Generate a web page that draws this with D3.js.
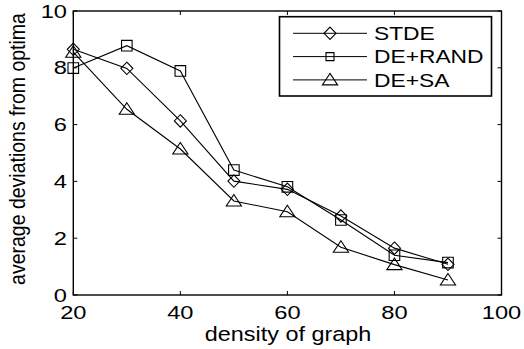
<!DOCTYPE html>
<html>
<head>
<meta charset="utf-8">
<script src="https://cdn.jsdelivr.net/npm/d3@7"></script>
<style>
html,body{margin:0;padding:0;background:#fff;}
svg{display:block;}
text{font-family:"Liberation Sans",Arial,Helvetica,sans-serif;fill:#000;}
</style>
</head>
<body>
<svg id="chart" width="524" height="349"></svg>
<script>
const densities = [20, 30, 40, 50, 60, 70, 80, 90];
const seriesNames = ["STDE", "DE+RAND", "DE+SA"];
const stdeValues = [8.65, 7.98, 6.13, 4.01, 3.72, 2.78, 1.65, 1.08];
const deRandValues = [7.99, 8.78, 7.89, 4.40, 3.81, 2.64, 1.40, 1.14];
const deSaValues = [8.55, 6.54, 5.14, 3.31, 2.93, 1.68, 1.07, 0.53];
const xTicks = [20, 40, 60, 80, 100];
const yTicks = [0, 2, 4, 6, 8, 10];
const xLabel = "density of graph";
const yLabel = "average deviations from optima";

const series = [
  {name: seriesNames[0], values: stdeValues, marker: "diamond"},
  {name: seriesNames[1], values: deRandValues, marker: "square"},
  {name: seriesNames[2], values: deSaValues, marker: "triangle"}
];

const svg = d3.select("#chart");
const x = d3.scaleLinear().domain([20, 100]).range([73.3, 501.5]);
const y = d3.scaleLinear().domain([0, 10]).range([295, 11]);
const SX = 1.28; // horizontal stretch of text in reference

function markerPath(type) {
  if (type === "diamond") return "M0,-6.2L6,0L0,6.2L-6,0Z";
  if (type === "square") return "M-5.3,-5.3H5.3V5.3H-5.3Z";
  return "M0,-6.5L7.6,5L-7.6,5Z";
}

// frame
const frame = svg.append("g");
frame.append("rect")
  .attr("x", x(20)).attr("y", y(10))
  .attr("width", x(100) - x(20)).attr("height", y(0) - y(10))
  .attr("fill", "none").attr("stroke", "#000").attr("stroke-width", 1.4);

const tl = 4;
// x ticks (bottom and top, inward)
xTicks.forEach(t => {
  frame.append("line").attr("x1", x(t)).attr("x2", x(t)).attr("y1", y(0)).attr("y2", y(0) - tl)
    .attr("stroke", "#000").attr("stroke-width", 1);
  frame.append("line").attr("x1", x(t)).attr("x2", x(t)).attr("y1", y(10)).attr("y2", y(10) + tl)
    .attr("stroke", "#000").attr("stroke-width", 1);
  frame.append("text")
    .attr("transform", `translate(${x(t)},319) scale(${SX},1)`)
    .attr("text-anchor", "middle").attr("font-size", 18.5).text(t);
});
yTicks.forEach(t => {
  frame.append("line").attr("x1", x(20)).attr("x2", x(20) + tl).attr("y1", y(t)).attr("y2", y(t))
    .attr("stroke", "#000").attr("stroke-width", 1);
  frame.append("line").attr("x1", x(100)).attr("x2", x(100) - tl).attr("y1", y(t)).attr("y2", y(t))
    .attr("stroke", "#000").attr("stroke-width", 1);
  frame.append("text")
    .attr("transform", `translate(67,${y(t) + 6.6}) scale(${SX},1)`)
    .attr("text-anchor", "end").attr("font-size", 18.5).text(t);
});

// axis labels
svg.append("text")
  .attr("transform", `translate(288,341) scale(1.2,1)`)
  .attr("text-anchor", "middle").attr("font-size", 19.5).text(xLabel);
svg.append("text")
  .attr("transform", `translate(25,149) scale(1.15,1) rotate(-90)`)
  .attr("text-anchor", "middle").attr("font-size", 19.5).text(yLabel);

// series
const line = d3.line().x((d, i) => x(densities[i])).y(d => y(d));
series.forEach(s => {
  svg.append("path").attr("d", line(s.values))
    .attr("fill", "none").attr("stroke", "#000").attr("stroke-width", 1.1);
  svg.selectAll(null).data(s.values).enter().append("path")
    .attr("transform", (d, i) => `translate(${x(densities[i])},${y(d)})`)
    .attr("d", markerPath(s.marker))
    .attr("fill", "none").attr("stroke", "#000").attr("stroke-width", 1.1);
});

// legend
const lg = svg.append("g");
lg.append("rect").attr("x", 279.5).attr("y", 16.7).attr("width", 212).attr("height", 79.3)
  .attr("fill", "#fff").attr("stroke", "#000").attr("stroke-width", 1.6);
series.forEach((s, i) => {
  const ly = 33.3 + i * 23.3;
  lg.append("line").attr("x1", 293).attr("x2", 367).attr("y1", ly).attr("y2", ly)
    .attr("stroke", "#000").attr("stroke-width", 1);
  lg.append("path").attr("transform", `translate(330,${ly})`)
    .attr("d", s.marker === "square" ? "M-4,-4H4V4H-4Z" : markerPath(s.marker))
    .attr("fill", "none").attr("stroke", "#000").attr("stroke-width", 1.1);
  lg.append("text").attr("transform", `translate(374,${ly + 6.8}) scale(1.2,1)`)
    .attr("font-size", 19).text(s.name);
});
</script>
</body>
</html>
